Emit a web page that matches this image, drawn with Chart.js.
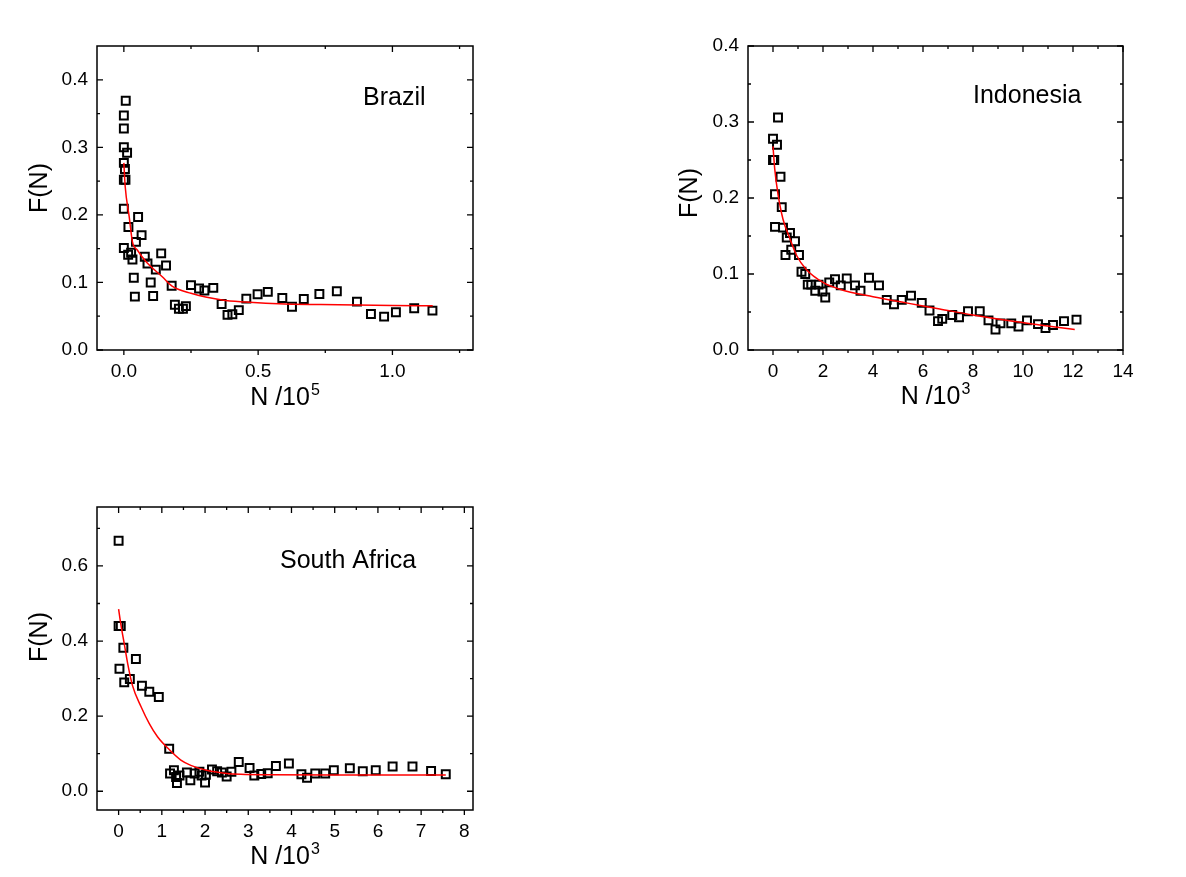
<!DOCTYPE html>
<html>
<head>
<meta charset="utf-8">
<script src="https://cdn.jsdelivr.net/npm/chart.js@4.4.1/dist/chart.umd.min.js"></script>
<style>
  html, body { margin: 0; padding: 0; background: #fff; }
  body { width: 1186px; height: 877px; position: relative; overflow: hidden; }
  canvas { position: absolute; }
  #brazil { left: 0; top: 0; }
  #indonesia { left: 650px; top: 0; }
  #safrica { left: 0; top: 460px; }
</style>
</head>
<body>
<canvas id="brazil" width="520" height="440"></canvas>
<canvas id="indonesia" width="536" height="440"></canvas>
<canvas id="safrica" width="520" height="417"></canvas>
<script>
// ---- Brazil (N in units of 10^5) ----
const brazilN = [0.007, 0, 0, 0, 0.012, 0, 0.004, 0, 0.006, 0, 0.053, 0.017, 0.066, 0.045, 0, 0.027, 0.016,
  0.078, 0.032, 0.139, 0.088, 0.157, 0.119, 0.037, 0.100, 0.178, 0.041, 0.109, 0.190, 0.205, 0.220, 0.231,
  0.250, 0.280, 0.300, 0.333, 0.364, 0.386, 0.404, 0.428, 0.456, 0.498, 0.536, 0.590, 0.626, 0.670, 0.728,
  0.793, 0.868, 0.920, 0.969, 1.013, 1.081, 1.149];
const brazilF = [0.369, 0.347, 0.328, 0.300, 0.292, 0.277, 0.268, 0.252, 0.252, 0.209, 0.197, 0.182, 0.170, 0.160, 0.151, 0.144, 0.141,
  0.138, 0.134, 0.143, 0.128, 0.125, 0.119, 0.107, 0.100, 0.095, 0.079, 0.080, 0.067, 0.061, 0.061, 0.065,
  0.096, 0.091, 0.088, 0.092, 0.068, 0.052, 0.053, 0.059, 0.076, 0.0825, 0.086, 0.077, 0.064, 0.0756, 0.083,
  0.087, 0.0716, 0.0533, 0.0494, 0.0558, 0.0617, 0.0583];
const brazilFitN = [0, 0.005, 0.02, 0.032, 0.05, 0.082, 0.144, 0.178, 0.25, 0.366, 0.453, 0.6, 0.8, 1.0, 1.15];
const brazilFitF = [0.277, 0.242, 0.197, 0.16, 0.148, 0.131, 0.108, 0.095, 0.084, 0.074, 0.071, 0.068, 0.067, 0.066, 0.0655];
const brazilXTicks = [0, 0.25, 0.5, 0.75, 1.0, 1.25];
const brazilXLabels = ["0.0", "", "0.5", "", "1.0", ""];
const brazilYTicks = [0, 0.05, 0.1, 0.15, 0.2, 0.25, 0.3, 0.35, 0.4];
const brazilYLabels = ["0.0", "", "0.1", "", "0.2", "", "0.3", "", "0.4"];

// ---- Indonesia (N in units of 10^3) ----
const indoN = [0.2, 0, 0.16, 0, 0.05, 0.3, 0.08, 0.35, 0.08, 0.4, 0.68, 0.55, 0.88, 0.73, 0.5, 1.04, 1.14, 1.29,
  1.39, 1.53, 1.69, 1.82, 1.98, 2.09, 2.25, 2.48, 2.71, 2.95, 3.28, 3.5, 3.84, 4.24, 4.55, 4.84, 5.15, 5.52,
  5.95, 6.26, 6.6, 6.77, 7.17, 7.44, 7.8, 8.27, 8.62, 8.9, 9.1, 9.53, 9.82, 10.16, 10.6, 10.9, 11.2, 11.64, 12.14];
const indoF = [0.306, 0.278, 0.270, 0.250, 0.250, 0.228, 0.205, 0.188, 0.162, 0.161, 0.154, 0.148, 0.143, 0.132, 0.125, 0.125, 0.103, 0.100,
  0.086, 0.086, 0.078, 0.086, 0.077, 0.069, 0.089, 0.093, 0.085, 0.094, 0.085, 0.078, 0.095, 0.085, 0.066, 0.060, 0.066, 0.0715,
  0.062, 0.052, 0.038, 0.041, 0.046, 0.043, 0.051, 0.051, 0.039, 0.027, 0.035, 0.035, 0.031, 0.039, 0.034, 0.029, 0.033, 0.038, 0.040];
const indoFitN = [0, 0.07, 0.2, 0.4, 0.67, 0.95, 1.33, 2.0, 2.67, 4.0, 5.33, 6.67, 8.0, 9.33, 10.67, 12.07];
const indoFitF = [0.268, 0.238, 0.205, 0.172, 0.147, 0.124, 0.106, 0.089, 0.080, 0.070, 0.062, 0.054, 0.046, 0.039, 0.033, 0.027];
const indoXTicks = [0, 1, 2, 3, 4, 5, 6, 7, 8, 9, 10, 11, 12, 13, 14];
const indoXLabels = ["0", "", "2", "", "4", "", "6", "", "8", "", "10", "", "12", "", "14"];
const indoYTicks = [0, 0.05, 0.1, 0.15, 0.2, 0.25, 0.3, 0.35, 0.4];
const indoYLabels = ["0.0", "", "0.1", "", "0.2", "", "0.3", "", "0.4"];

// ---- South Africa (N in units of 10^3) ----
const saN = [0, 0, 0.05, 0.11, 0.02, 0.4, 0.13, 0.26, 0.54, 0.71, 0.93, 1.17, 1.19, 1.28, 1.35, 1.33, 1.41, 1.58,
  1.66, 1.76, 1.87, 1.92, 2.0, 2.02, 2.16, 2.28, 2.39, 2.5, 2.61, 2.78, 3.03, 3.14, 3.3, 3.45, 3.64, 3.94,
  4.23, 4.36, 4.55, 4.78, 4.98, 5.35, 5.65, 5.95, 6.34, 6.8, 7.23, 7.57];
const saF = [0.667, 0.440, 0.440, 0.382, 0.326, 0.352, 0.290, 0.299, 0.281, 0.265, 0.251, 0.113, 0.047, 0.056, 0.022, 0.038, 0.042, 0.050,
  0.029, 0.047, 0.052, 0.042, 0.023, 0.044, 0.058, 0.053, 0.050, 0.039, 0.052, 0.078, 0.062, 0.042, 0.046, 0.048, 0.067, 0.074,
  0.045, 0.036, 0.047, 0.047, 0.056, 0.061, 0.053, 0.056, 0.066, 0.066, 0.054, 0.045];
const saFitN = [0, 0.05, 0.13, 0.21, 0.32, 0.52, 0.71, 0.9, 1.17, 1.44, 1.67, 2.06, 2.45, 2.83, 3.5, 5.0, 7.57];
const saFitF = [0.485, 0.446, 0.393, 0.340, 0.282, 0.225, 0.180, 0.145, 0.111, 0.083, 0.069, 0.055, 0.048, 0.045, 0.044, 0.0435, 0.0435];
const saXTicks = [0, 0.5, 1, 1.5, 2, 2.5, 3, 3.5, 4, 4.5, 5, 5.5, 6, 6.5, 7, 7.5, 8];
const saXLabels = ["0", "", "1", "", "2", "", "3", "", "4", "", "5", "", "6", "", "7", "", "8"];
const saYTicks = [0, 0.1, 0.2, 0.3, 0.4, 0.5, 0.6, 0.7];
const saYLabels = ["0.0", "", "0.2", "", "0.4", "", "0.6", ""];

const FONT = "'Liberation Sans', Arial, sans-serif";
const pts = (xs, ys) => xs.map((x, i) => ({ x, y: ys[i] }));

// frame, inward/outward ticks, country name and axis titles
const decor = {
  id: "decor",
  afterDatasetsDraw(chart, args, o) {
    const { ctx, chartArea: a, scales: { x, y } } = chart;
    ctx.save();
    ctx.strokeStyle = "#000";
    ctx.lineWidth = 1.5;
    ctx.strokeRect(a.left, a.top, a.right - a.left, a.bottom - a.top);
    ctx.lineWidth = 1.3;
    ctx.beginPath();
    o.xTicks.forEach((v, i) => {
      const px = x.getPixelForValue(v);
      const major = o.xLabels[i] !== "";
      ctx.moveTo(px, a.bottom); ctx.lineTo(px, a.bottom + (major ? 5 : 3));
      ctx.moveTo(px, a.top); ctx.lineTo(px, a.top + (major ? 6 : 3));
    });
    o.yTicks.forEach((v, i) => {
      const py = y.getPixelForValue(v);
      const major = o.yLabels[i] !== "";
      ctx.moveTo(a.left, py); ctx.lineTo(a.left + (major ? 6 : 3), py);
      ctx.moveTo(a.right, py); ctx.lineTo(a.right - (major ? 6 : 3), py);
    });
    ctx.stroke();

    ctx.fillStyle = "#000";
    ctx.textBaseline = "alphabetic";
    ctx.textAlign = "left";
    ctx.font = "25px " + FONT;
    ctx.fillText(o.name, o.nameX, o.nameY);

    // x title with superscript exponent
    const base = "N /10";
    const w1 = ctx.measureText(base).width;
    ctx.font = "16px " + FONT;
    const w2 = ctx.measureText(o.exp).width;
    const cx = (a.left + a.right) / 2;
    const sx = cx - (w1 + w2 + 1) / 2;
    ctx.font = "25px " + FONT;
    ctx.fillText(base, sx, o.xTitleY);
    ctx.font = "16px " + FONT;
    ctx.fillText(o.exp, sx + w1 + 1, o.xTitleY - 10);

    // y title
    ctx.font = "25px " + FONT;
    ctx.translate(o.yTitleX, o.yTitleY);
    ctx.rotate(-Math.PI / 2);
    ctx.textAlign = "center";
    ctx.textBaseline = "middle";
    ctx.fillText("F(N)", 0, 0);
    ctx.restore();
  }
};

function panel(id, d) {
  const canvas = document.getElementById(id);
  const H = canvas.height;
  new Chart(canvas, {
    type: "scatter",
    data: {
      datasets: [
        {
          type: "line",
          data: pts(d.fitN, d.fitF),
          borderColor: "#ff0000",
          borderWidth: 1.5,
          pointRadius: 0,
          fill: false,
          cubicInterpolationMode: "monotone",
          order: 0
        },
        {
          data: pts(d.n, d.f),
          pointStyle: "rect",
          pointRadius: 5.6,
          borderColor: "#000",
          borderWidth: 2,
          backgroundColor: "rgba(0,0,0,0)",
          order: 1
        }
      ]
    },
    options: {
      responsive: false,
      animation: false,
      events: [],
      layout: { padding: { left: 0, top: d.top, right: canvas.width - d.right, bottom: 0 } },
      plugins: {
        legend: { display: false },
        tooltip: { enabled: false },
        decor: d.decor
      },
      scales: {
        x: {
          type: "linear",
          min: d.xMin, max: d.xMax,
          afterBuildTicks: s => { s.ticks = d.decor.xTicks.map(v => ({ value: v })); },
          afterFit: s => { s.height = H - d.bottom; },
          grid: { display: false, drawTicks: false },
          border: { display: false },
          ticks: {
            autoSkip: false, maxRotation: 0, padding: 10, color: "#000",
            font: { family: FONT, size: 19 },
            callback: (v, i) => d.decor.xLabels[i]
          }
        },
        y: {
          type: "linear",
          min: d.yMin, max: d.yMax,
          afterBuildTicks: s => { s.ticks = d.decor.yTicks.map(v => ({ value: v })); },
          afterFit: s => { s.width = d.left; },
          grid: { display: false, drawTicks: false },
          border: { display: false },
          ticks: {
            autoSkip: false, padding: 9, color: "#000",
            font: { family: FONT, size: 19 },
            callback: (v, i) => d.decor.yLabels[i]
          }
        }
      }
    },
    plugins: [decor]
  });
}

panel("brazil", {
  n: brazilN, f: brazilF, fitN: brazilFitN, fitF: brazilFitF,
  xMin: -0.1, xMax: 1.3, yMin: 0, yMax: 0.45,
  left: 97, right: 473, top: 46, bottom: 350,
  decor: { xTicks: brazilXTicks, xLabels: brazilXLabels, yTicks: brazilYTicks, yLabels: brazilYLabels,
    name: "Brazil", nameX: 363, nameY: 105, exp: "5", xTitleY: 405, yTitleX: 40, yTitleY: 188 }
});

panel("indonesia", {
  n: indoN, f: indoF, fitN: indoFitN, fitF: indoFitF,
  xMin: -1, xMax: 14, yMin: 0, yMax: 0.4,
  left: 98, right: 473, top: 46, bottom: 350,
  decor: { xTicks: indoXTicks, xLabels: indoXLabels, yTicks: indoYTicks, yLabels: indoYLabels,
    name: "Indonesia", nameX: 323, nameY: 103, exp: "3", xTitleY: 404, yTitleX: 40, yTitleY: 193 }
});

panel("safrica", {
  n: saN, f: saF, fitN: saFitN, fitF: saFitF,
  xMin: -0.5, xMax: 8.2, yMin: -0.05, yMax: 0.757,
  left: 97, right: 473, top: 47, bottom: 350,
  decor: { xTicks: saXTicks, xLabels: saXLabels, yTicks: saYTicks, yLabels: saYLabels,
    name: "South Africa", nameX: 280, nameY: 108, exp: "3", xTitleY: 404, yTitleX: 40, yTitleY: 177 }
});
</script>
</body>
</html>
